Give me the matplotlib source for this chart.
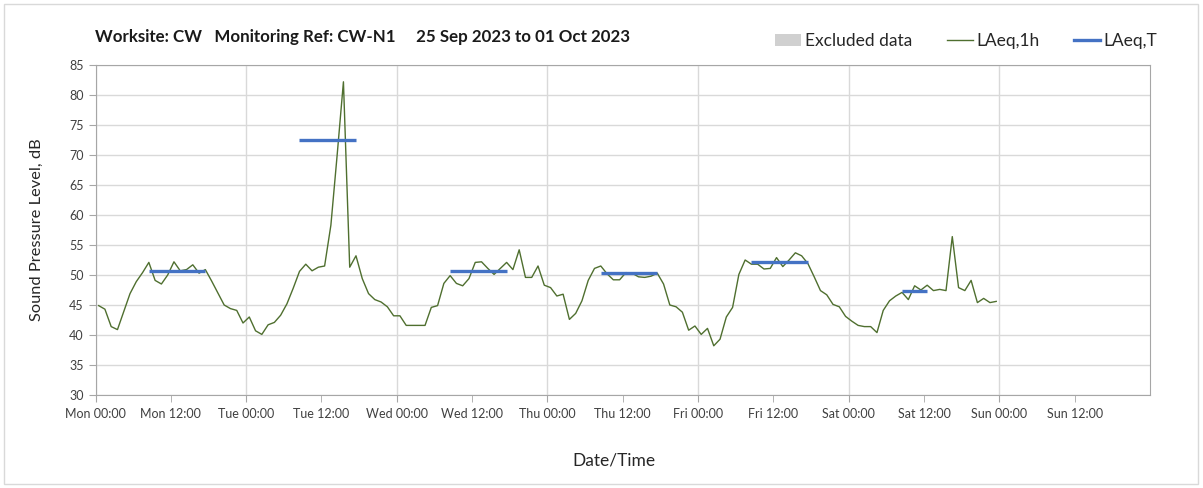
import pandas as pd
import matplotlib
matplotlib.use("Agg")
import matplotlib.pyplot as plt
import matplotlib.dates as mdates
from matplotlib.lines import Line2D
from matplotlib.patches import Patch, Rectangle

plt.rcParams['font.family'] = ['Lato', 'DejaVu Sans']

# Hourly LAeq,1h (one value per hour, stamped at mid-hour)
laeq_1h = [
    44.9, 44.3, 41.4, 40.9, 43.9, 46.9, 48.9, 50.4, 52.1, 49.1, 48.5, 50.0,
    52.2, 50.7, 50.9, 51.7, 50.3, 50.9, 49.0, 47.0, 45.0, 44.4, 44.1, 42.0,
    43.0, 40.7, 40.1, 41.7, 42.1, 43.3, 45.2, 47.8, 50.6, 51.8, 50.7, 51.3,
    51.5, 58.3, 70.0, 82.2, 51.3, 53.2, 49.4, 46.9, 45.9, 45.5, 44.7, 43.2,
    43.2, 41.6, 41.6, 41.6, 41.6, 44.6, 44.9, 48.6, 49.9, 48.6, 48.2, 49.4,
    52.1, 52.2, 51.1, 50.1, 51.1, 52.1, 50.9, 54.2, 49.6, 49.6, 51.5, 48.3,
    47.9, 46.5, 46.8, 42.6, 43.6, 45.7, 49.1, 51.1, 51.5, 50.2, 49.2, 49.2,
    50.4, 50.3, 49.7, 49.6, 49.8, 50.3, 48.5, 45.0, 44.7, 43.8, 40.8, 41.5,
    40.1, 41.1, 38.2, 39.3, 43.0, 44.6, 50.1, 52.5, 51.8, 51.8, 51.0, 51.1,
    52.9, 51.4, 52.5, 53.7, 53.2, 51.9, 49.7, 47.4, 46.7, 45.1, 44.7, 43.1,
    42.3, 41.6, 41.4, 41.4, 40.4, 44.1, 45.7, 46.5, 47.1, 45.9, 48.2, 47.5,
    48.3, 47.4, 47.6, 47.4, 56.4, 47.9, 47.4, 49.1, 45.4, 46.1, 45.4, 45.6,
]
times_1h = pd.date_range("2023-09-25 00:30", periods=len(laeq_1h), freq="h")

# LAeq,T for each daytime period
t_start = pd.to_datetime(["2023-09-25 08:30", "2023-09-26 08:30", "2023-09-27 08:30",
                          "2023-09-28 08:30", "2023-09-29 08:30", "2023-09-30 08:30"])
t_end = pd.to_datetime(["2023-09-25 17:30", "2023-09-26 17:30", "2023-09-27 17:30",
                        "2023-09-28 17:30", "2023-09-29 17:30", "2023-09-30 12:30"])
laeq_t = [50.7, 72.5, 50.7, 50.3, 52.2, 47.4]

day_ticks = pd.date_range("2023-09-25", periods=7, freq="D")
noon_ticks = pd.date_range("2023-09-25 12:00", periods=7, freq="D")

fig = plt.figure(figsize=(12.03, 4.88), dpi=100)
fig.patches.append(Rectangle((4 / 1203, 4 / 488), 1194 / 1203, 480 / 488,
                             transform=fig.transFigure, fill=False,
                             edgecolor="#d9d9d9", linewidth=1))
ax = fig.add_axes([95.5 / 1203, 1 - 395 / 488, (1150 - 95.5) / 1203, 330 / 488])

ax.plot(times_1h, laeq_1h, color="#4f6f2f", linewidth=1.0, zorder=3)
ax.hlines(laeq_t, t_start, t_end, color="#4472c4", linewidth=2.4, zorder=4)

ax.set_xlim(pd.Timestamp("2023-09-25"), pd.Timestamp("2023-10-02"))
ax.set_ylim(30, 85)
ax.set_yticks(range(30, 86, 5))
ax.set_xticks(day_ticks)
ax.set_xticks(noon_ticks, minor=True)
fmt = mdates.DateFormatter("%a %H:%M")
ax.xaxis.set_major_formatter(fmt)
ax.xaxis.set_minor_formatter(fmt)

ax.grid(axis="y", color="#d9d9d9", linewidth=1)
ax.grid(axis="x", which="major", color="#d9d9d9", linewidth=1)
ax.set_axisbelow(True)
for s in ax.spines.values():
    s.set_color("#a6a6a6")
ax.tick_params(which="both", length=5, color="#a6a6a6", labelsize=9, labelcolor="#404040")
ax.tick_params(axis="x", which="both", pad=4)

ax.set_ylabel("Sound Pressure Level, dB", fontsize=11.8, color="#262626")
ax.yaxis.set_label_coords(-52 / 1054.5, 0.5)
ax.set_xlabel("Date/Time", fontsize=12.5, color="#262626")
ax.xaxis.set_label_coords(0.492, -58 / 330)

fig.text(95 / 1203, 1 - 37 / 488, "Worksite: CW   Monitoring Ref: CW-N1     25 Sep 2023 to 01 Oct 2023",
         fontsize=12.2, fontweight="bold", va="center", color="#1a1a1a")

handles = [Patch(facecolor="#d0d0d0", edgecolor="none"),
           Line2D([], [], color="#4f6f2f", linewidth=1.0),
           Line2D([], [], color="#4472c4", linewidth=2.4)]
fig.legend(handles, ["Excluded data", "LAeq,1h", "LAeq,T"], ncol=3, frameon=False,
           loc="center right", bbox_to_anchor=(1173 / 1203, 1 - 41 / 488),
           fontsize=12.5, handlelength=1.5, handletextpad=0.2, columnspacing=2.0,
           labelcolor="#262626")

plt.savefig("out.png", dpi=100)
